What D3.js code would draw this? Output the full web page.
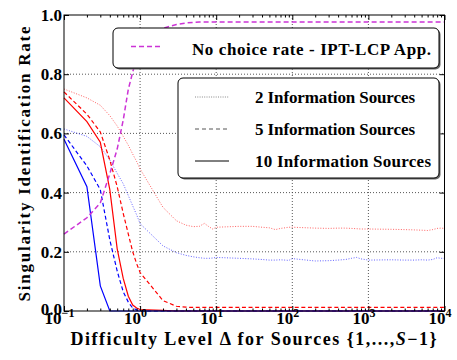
<!DOCTYPE html>
<html>
<head>
<meta charset="utf-8">
<script src="https://cdn.jsdelivr.net/npm/d3@7"></script>
<style>
  body { margin: 0; background: #fff; }
  svg { display: block; }
  svg text { font-family: "Liberation Serif", "DejaVu Serif", serif; font-weight: bold; }
</style>
</head>
<body>
<svg id="chart" width="457" height="360"></svg>
<script>
// difficulty levels (log axis)
const deltas = [0.1,0.2,0.3,0.4,0.5,0.6,0.7,0.8,0.9,
  1,2,3,4,5,6,7,8,9,
  10,20,30,40,50,60,70,80,90,
  100,200,300,400,500,600,700,800,900,
  1000,2000,3000,4000,5000,6000,7000,8000,9000,
  10000];

const red2 = [0.75,0.72,0.695,0.66,0.625,0.59,0.56,0.53,0.505,
  0.48,0.35,0.305,0.29,0.285,0.286,0.296,0.285,0.277,
  0.283,0.286,0.286,0.283,0.281,0.275,0.279,0.281,0.283,
  0.283,0.28,0.279,0.28,0.28,0.279,0.278,0.277,0.277,
  0.277,0.276,0.275,0.274,0.273,0.272,0.275,0.279,0.28,
  0.279];
const blue2 = [0.615,0.59,0.555,0.51,0.465,0.43,0.39,0.355,0.325,
  0.295,0.22,0.197,0.188,0.183,0.18,0.178,0.178,0.179,
  0.181,0.178,0.176,0.174,0.172,0.172,0.173,0.172,0.171,
  0.177,0.169,0.17,0.172,0.174,0.178,0.181,0.176,0.174,
  0.172,0.173,0.172,0.172,0.173,0.172,0.174,0.18,0.178,
  0.178];
const red5 = [0.74,0.665,0.605,0.51,0.42,0.33,0.26,0.20,0.16,
  0.13,0.035,0.016,0.013,0.012,0.012,0.012,0.012,0.012,
  0.012,0.012,0.012,0.012,0.012,0.012,0.012,0.012,0.012,
  0.012,0.012,0.012,0.012,0.012,0.012,0.012,0.012,0.012,
  0.012,0.012,0.012,0.012,0.012,0.012,0.012,0.012,0.012,
  0.012];
const blue5 = [0.595,0.49,0.41,0.24,0.135,0.065,0.03,0.01,0.004,
  0,0,0,0,0,0,0,0,0,
  0,0,0,0,0,0,0,0,0,
  0,0,0,0,0,0,0,0,0,
  0,0,0,0,0,0,0,0,0,
  0];
const red10 = [0.72,0.64,0.57,0.41,0.21,0.11,0.05,0.02,0.01,
  0.005,0.002,0,0,0,0,0,0,0,
  0,0,0,0,0,0,0,0,0,
  0,0,0,0,0,0,0,0,0,
  0,0,0,0,0,0,0,0,0,
  0];
const blue10 = [0.58,0.42,0.085,0,0,0,0,0,0,
  0,0,0,0,0,0,0,0,0,
  0,0,0,0,0,0,0,0,0,
  0,0,0,0,0,0,0,0,0,
  0,0,0,0,0,0,0,0,0,
  0];
const noChoice = [0.26,0.315,0.365,0.464,0.547,0.645,0.749,0.807,0.86,
  0.89,0.955,0.968,0.973,0.975,0.976,0.976,0.976,0.976,
  0.976,0.976,0.976,0.976,0.976,0.976,0.976,0.976,0.976,
  0.976,0.976,0.976,0.976,0.976,0.976,0.976,0.976,0.976,
  0.976,0.976,0.976,0.976,0.976,0.976,0.976,0.976,0.976,
  0.976];

const xTicks = [0.1,1,10,100,1000,10000];
const xTickExp = ["\u22121","0","1","2","3","4"];
const yTicks = [0,0.2,0.4,0.6,0.8,1.0];

const legendTop = "No choice rate - IPT-LCP App.";
const legendNames = ["2 Information Sources","5 Information Sources","10 Information Sources"];

const plotL = 64, plotR = 444.5, plotT = 15, plotB = 311;

const svg = d3.select("#chart");
const x = d3.scaleLog().domain([0.1, 1e4]).range([plotL, plotR]);
const y = d3.scaleLinear().domain([0, 1]).range([plotB, plotT]);

// grid
const grid = svg.append("g").attr("stroke", "#444").attr("stroke-width", 0.9)
  .attr("stroke-dasharray", "1,2");
grid.selectAll("line.v").data(xTicks.slice(1, -1)).enter().append("line")
  .attr("x1", d => x(d)).attr("x2", d => x(d)).attr("y1", plotT).attr("y2", plotB);
grid.selectAll("line.h").data(yTicks.slice(1, -1)).enter().append("line")
  .attr("x1", plotL).attr("x2", plotR).attr("y1", d => y(d)).attr("y2", d => y(d));

// series
const series = [
  {v: red2, c: "#ff2020", dash: "1,1.6", w: 1, o: 0.7},
  {v: blue2, c: "#2020ff", dash: "1,1.6", w: 1, o: 0.7},
  {v: red5, c: "#ff0000", dash: "4,2.6", w: 1.2, o: 1},
  {v: blue5, c: "#0000ff", dash: "4,2.6", w: 1.2, o: 1},
  {v: red10, c: "#ff0000", dash: null, w: 1.2, o: 1},
  {v: blue10, c: "#0000ff", dash: null, w: 1.2, o: 1},
  {v: noChoice, c: "#cc33d6", dash: "5,3", w: 1.5, o: 1}
];
const line = d3.line().x(d => x(d[0])).y(d => y(d[1]));
const plot = svg.append("g");
series.forEach(s => {
  plot.append("path")
    .attr("d", line(deltas.map((d, i) => [d, s.v[i]])))
    .attr("fill", "none")
    .attr("stroke", s.c)
    .attr("stroke-width", s.w)
    .attr("stroke-opacity", s.o)
    .attr("stroke-dasharray", s.dash);
});

// axes (ticks pointing inward, on all four sides)
const minor = [];
for (let e = -1; e < 4; e++) for (let k = 2; k < 10; k++) minor.push(k * Math.pow(10, e));

svg.append("g").attr("transform", `translate(0,${plotB})`)
  .call(d3.axisBottom(x).tickValues(minor).tickSize(-2.5).tickFormat(""));
svg.append("g").attr("transform", `translate(0,${plotT})`)
  .call(d3.axisTop(x).tickValues(minor).tickSize(-2.5).tickFormat(""));
svg.append("g").attr("transform", `translate(0,${plotT})`)
  .call(d3.axisTop(x).tickValues(xTicks).tickSize(-5).tickFormat(""));
const xAx = svg.append("g").attr("transform", `translate(0,${plotB})`)
  .call(d3.axisBottom(x).tickValues(xTicks).tickSize(-5).tickFormat(""));
svg.append("g").attr("transform", `translate(${plotR},0)`)
  .call(d3.axisRight(y).tickValues(yTicks).tickSize(-5).tickFormat(""));
const yAx = svg.append("g").attr("transform", `translate(${plotL},0)`)
  .call(d3.axisLeft(y).tickValues(yTicks).tickSize(-5).tickFormat(""));
svg.selectAll(".domain").remove();
svg.selectAll(".tick text").remove();
svg.selectAll("g").attr("font-family", null).attr("font-size", null);
svg.selectAll(".tick line").attr("stroke", "#000").attr("stroke-width", 1);

// x tick labels 10^k
xAx.selectAll(".tick").each(function(d, i) {
  const t = d3.select(this).append("text")
    .attr("x", -5).attr("y", 13).attr("fill", "#000")
    .attr("text-anchor", "middle")
    .attr("font-size", 17);
  t.append("tspan").text("10");
  t.append("tspan").attr("font-size", 12).attr("dy", -7).text(xTickExp[i]);
});
yAx.selectAll(".tick").append("text")
  .attr("x", -2).attr("dy", d => d === 0 ? 3 : 5.5).attr("fill", "#000")
  .attr("text-anchor", "end").attr("font-size", 17)
  .text(d => d.toFixed(1));

// frame
svg.append("rect").attr("x", plotL).attr("y", plotT)
  .attr("width", plotR - plotL).attr("height", plotB - plotT)
  .attr("fill", "none").attr("stroke", "#000").attr("stroke-width", 1);

// axis titles
svg.append("text").attr("transform", `translate(30,${(plotT + plotB) / 2 + 1}) rotate(-90)`)
  .attr("text-anchor", "middle").attr("font-size", 17)
  .attr("textLength", 275)
  .text("Singularity Identification Rate");
const xl = svg.append("text").attr("x", 253.5).attr("y", 345)
  .attr("text-anchor", "middle").attr("font-size", 18)
  .attr("textLength", 366);
xl.append("tspan").text("Difficulty Level \u0394 for Sources {1,...,");
xl.append("tspan").attr("font-style", "italic").text("S");
xl.append("tspan").text("\u22121}");

// legends
function box(x0, y0, w, h) {
  svg.append("rect").attr("x", x0 + 1.5).attr("y", y0 + 1.5).attr("width", w).attr("height", h)
    .attr("rx", 5).attr("fill", "#666");
  svg.append("rect").attr("x", x0).attr("y", y0).attr("width", w).attr("height", h)
    .attr("rx", 5).attr("fill", "#fff").attr("stroke", "#000").attr("stroke-width", 1);
}
box(113, 28, 326, 40);
svg.append("line").attr("x1", 131).attr("x2", 163).attr("y1", 46.5).attr("y2", 46.5)
  .attr("stroke", "#cc33d6").attr("stroke-width", 1.5).attr("stroke-dasharray", "5,3");
svg.append("text").attr("x", 192).attr("y", 55).attr("font-size", 17)
  .attr("textLength", 239).text(legendTop);

box(178, 78, 261, 100);
const legStyles = [
  {dash: "1,1.3", c: "#888"},
  {dash: "4,3", c: "#555"},
  {dash: null, c: "#000"}
];
legendNames.forEach((name, i) => {
  const ly = 97 + i * 32;
  svg.append("line").attr("x1", 195).attr("x2", 229).attr("y1", ly).attr("y2", ly)
    .attr("stroke", legStyles[i].c).attr("stroke-width", 1)
    .attr("stroke-dasharray", legStyles[i].dash);
  svg.append("text").attr("x", 255).attr("y", ly + 6).attr("font-size", 17)
    .attr("textLength", i === 2 ? 176 : 160).text(name);
});
</script>
</body>
</html>
